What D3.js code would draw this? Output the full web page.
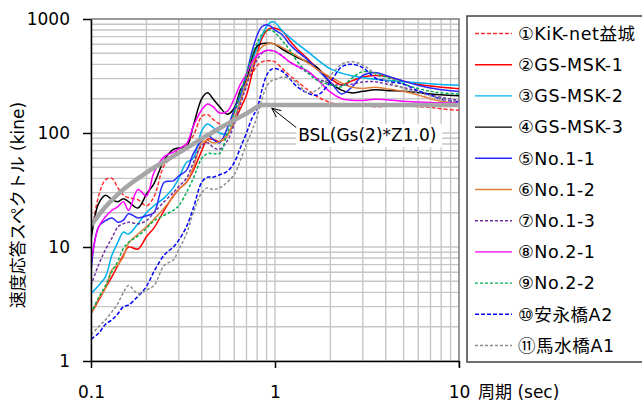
<!DOCTYPE html>
<html>
<head>
<meta charset="utf-8">
<script src="https://cdn.jsdelivr.net/npm/d3@7"></script>
<style>
  body { margin: 0; background: #fff; }
  svg { display: block; font-family: "DejaVu Sans", "Noto Sans CJK JP", sans-serif; }
</style>
</head>
<body>
<svg id="chart" width="642" height="407"></svg>
<script>
// periods (sec) shared by every record
const periods = [0.1, 0.11, 0.12, 0.13, 0.14, 0.15, 0.16, 0.18, 0.2, 0.22, 0.25, 0.28, 0.3, 0.33, 0.36,
  0.4, 0.43, 0.46, 0.5, 0.55, 0.6, 0.65, 0.7, 0.75, 0.8, 0.85, 0.9, 0.95, 1.0, 1.1, 1.2, 1.3, 1.5, 1.7,
  2.0, 2.3, 2.6, 3.0, 3.5, 4, 5, 6, 7, 8, 10]

// velocity response (kine)
const kikNet = [12, 28, 39, 40, 33, 28.6, 27, 26, 23, 27.6, 52, 62, 72, 80, 95, 140, 145, 132, 120, 116, 150, 210,
  280, 330, 390, 420, 430, 430, 420, 365, 320, 290, 240, 208, 185, 173, 178, 180, 170, 172, 175, 170, 168, 163, 158]
const gsMsk1 = [2.6, 3.4, 4.4, 5.5, 6.9, 8.5, 10, 9.6, 12.3, 14.7, 21, 28, 32, 37, 47, 70, 88, 88, 84, 95, 125, 165,
  215, 330, 500, 680, 790, 830, 830, 780, 650, 560, 450, 370, 300, 265, 285, 310, 320, 315, 285, 268, 258, 252, 245]
const gsMsk2 = [3.9, 4.6, 5.5, 8.5, 11, 13.5, 13, 16, 20, 23, 27, 33, 40, 55, 60, 105, 120, 112, 100, 98, 130, 200,
  280, 420, 560, 720, 860, 940, 930, 780, 690, 620, 520, 440, 365, 335, 318, 305, 296, 290, 282, 276, 270, 266, 262]
const gsMsk3 = [11.5, 24, 28.5, 26, 25, 26.5, 25, 22, 29, 36, 58, 72, 74, 76, 116, 200, 225, 200, 170, 146, 165, 240,
  290, 460, 580, 610, 612, 612, 600, 540, 500, 465, 420, 375, 275, 238, 225, 232, 240, 236, 232, 226, 220, 216, 212]
const no11 = [6.1, 15, 17, 18, 16.5, 17.2, 19.6, 18, 18.8, 20, 37, 38, 42, 47, 66, 86, 96, 88, 82, 110, 160, 220,
  330, 520, 720, 860, 890, 860, 800, 720, 600, 530, 440, 360, 280, 220, 250, 320, 340, 320, 285, 262, 248, 240, 231]
const no12 = [2.6, 3.5, 4.4, 6.3, 7, 8.2, 10.8, 13, 15, 17.5, 22, 27.6, 32, 37, 50, 82, 86, 82, 84, 95, 130, 190,
  280, 380, 500, 570, 600, 612, 600, 560, 516, 480, 415, 360, 310, 275, 253, 246, 252, 245, 232, 215, 200, 190, 183]
const no13 = [4.6, 7, 9.5, 12, 15, 16, 16.5, 16, 17, 20, 25, 30, 34, 40, 55, 78, 82, 75, 72, 85, 120, 180,
  260, 360, 440, 500, 530, 530, 520, 470, 420, 390, 340, 300, 272, 262, 268, 280, 282, 270, 250, 232, 215, 205, 193]
const no21 = [7.2, 15, 18.4, 21, 22.6, 25, 21, 32, 28, 45, 62, 68, 73, 80, 115, 160, 180, 170, 150, 155, 200, 270,
  330, 420, 480, 510, 530, 530, 520, 470, 420, 390, 350, 295, 228, 200, 194, 193, 198, 196, 190, 187, 185, 184, 183]
const no22 = [2.6, 3.6, 4.6, 6.1, 7.5, 9.7, 11, 12.5, 14.5, 17, 19, 21, 23, 30, 40, 60, 66, 66, 66, 100, 150, 230,
  330, 480, 620, 730, 790, 800, 760, 640, 540, 440, 340, 290, 265, 255, 300, 345, 335, 310, 270, 245, 232, 225, 220]
const yasunaga = [1.55, 1.75, 2.1, 2.3, 2.6, 3, 3.1, 3.7, 4.5, 6.1, 8.5, 10, 11.5, 15, 22, 37, 41, 41, 43, 46, 55, 75,
  100, 135, 165, 240, 320, 360, 368, 345, 300, 260, 225, 215, 280, 380, 400, 375, 305, 285, 268, 235, 215, 198, 188]
const mamizu = [1.7, 2.0, 2.3, 2.7, 3.2, 4.0, 4.6, 3.9, 4.2, 4.6, 6.9, 7.7, 9.5, 13, 20, 30, 33, 32, 33, 37, 43, 58,
  80, 105, 140, 200, 255, 285, 295, 310, 302, 280, 225, 240, 320, 400, 423, 395, 330, 290, 246, 225, 212, 200, 188]

// design spectrum BSL
const bslPeriods = [0.1, 0.12, 0.15, 0.2, 0.3, 0.5, 0.7, 0.86, 10]
const bslValues = [15.5, 22.5, 32, 45, 67, 110, 148, 176, 176]

const xTicks = [0.1, 1, 10]
const yTicks = [1, 10, 100, 1000]

const seriesList = [
  { name: '①KiK-net益城', values: kikNet, color: '#ff3030', dash: '4,2' },
  { name: '②GS-MSK-1', values: gsMsk1, color: '#ff0000', dash: null },
  { name: '③GS-MSK-2', values: gsMsk2, color: '#00b0f0', dash: null },
  { name: '④GS-MSK-3', values: gsMsk3, color: '#000000', dash: null },
  { name: '⑤No.1-1', values: no11, color: '#2a2aff', dash: null },
  { name: '⑥No.1-2', values: no12, color: '#e0803c', dash: null },
  { name: '⑦No.1-3', values: no13, color: '#7030a0', dash: '3,2' },
  { name: '⑧No.2-1', values: no21, color: '#ff00ff', dash: null },
  { name: '⑨No.2-2', values: no22, color: '#00b050', dash: '3,2' },
  { name: '⑩安永橋A2', values: yasunaga, color: '#0000ff', dash: '4,2' },
  { name: '⑪馬水橋A1', values: mamizu, color: '#8c8c8c', dash: '3,2' }
]

const plotLeft = 91, plotRight = 459, plotTop = 19, plotBottom = 361

const svg = d3.select('#chart')

const x = d3.scaleLog().domain([0.1, 10]).range([plotLeft, plotRight])
const y = d3.scaleLog().domain([1, 1000]).range([plotBottom, plotTop])

/* grid */
const xGrid = []
;[0.1, 1].forEach(d => { for (let k = 1; k <= 9; k++) xGrid.push(d * k) })
const yGrid = []
;[1, 10, 100].forEach(d => { for (let k = 1; k <= 9; k++) yGrid.push(d * k) })

const grid = svg.append('g').attr('stroke', '#c6c6c6').attr('stroke-width', 1.4)
grid.selectAll('line.v').data(xGrid).join('line').attr('class', 'v')
  .attr('x1', d => x(d)).attr('x2', d => x(d)).attr('y1', plotTop).attr('y2', plotBottom)
grid.selectAll('line.h').data(yGrid).join('line').attr('class', 'h')
  .attr('x1', plotLeft).attr('x2', plotRight).attr('y1', d => y(d)).attr('y2', d => y(d))

/* plot border (top, right) */
svg.append('path')
  .attr('d', `M${plotLeft},${plotTop}H${plotRight}V${plotBottom + 6}`)
  .attr('fill', 'none').attr('stroke', '#7a7a7a').attr('stroke-width', 1.5)

/* clip */
svg.append('defs').append('clipPath').attr('id', 'plot')
  .append('rect').attr('x', plotLeft).attr('y', plotTop)
  .attr('width', plotRight - plotLeft).attr('height', plotBottom - plotTop)

const line = d3.line()
  .x(d => x(d[0]))
  .y(d => y(d[1]))
  .curve(d3.curveCatmullRom.alpha(0.5))

const plot = svg.append('g').attr('clip-path', 'url(#plot)')

plot.selectAll('path.series')
  .data(seriesList)
  .join('path')
  .attr('class', 'series')
  .attr('fill', 'none')
  .attr('stroke', d => d.color)
  .attr('stroke-width', 1.5)
  .attr('stroke-dasharray', d => d.dash)
  .attr('d', d => line(periods.map((p, i) => [p, d.values[i]])))

/* BSL */
plot.append('path')
  .attr('fill', 'none')
  .attr('stroke', '#a6a6a6')
  .attr('stroke-width', 4.5)
  .attr('stroke-linejoin', 'round')
  .attr('d', d3.line().x(d => x(d[0])).y(d => y(d[1])).curve(d3.curveMonotoneX)(bslPeriods.map((p, i) => [p, bslValues[i]])))

/* annotation */
const tip = [x(0.96), y(165)]
const from = [x(1.32), y(110)]
const ang = Math.atan2(from[1] - tip[1], from[0] - tip[0])
const ah = 10, spread = 0.42
svg.append('path')
  .attr('fill', 'none').attr('stroke', '#000').attr('stroke-width', 1)
  .attr('d', `M${from[0]},${from[1]}L${tip[0]},${tip[1]}` +
    `M${tip[0] + ah * Math.cos(ang - spread)},${tip[1] + ah * Math.sin(ang - spread)}L${tip[0]},${tip[1]}` +
    `L${tip[0] + ah * Math.cos(ang + spread)},${tip[1] + ah * Math.sin(ang + spread)}`)
svg.append('rect')
  .attr('x', from[0] - 1).attr('y', from[1] - 4).attr('width', 146).attr('height', 23)
  .attr('fill', '#fff')
svg.append('text')
  .attr('x', from[0] + 1).attr('y', from[1] + 13)
  .attr('font-size', 17).attr('fill', '#000')
  .text('BSL(Gs(2)*Z1.0)')

/* axes */
const yAxis = svg.append('g')
  .attr('transform', `translate(${plotLeft},0)`)
  .call(d3.axisLeft(y).tickValues(yTicks).tickFormat(d3.format('d')).tickSize(8).tickSizeOuter(0).tickPadding(13))
const xAxis = svg.append('g')
  .attr('transform', `translate(0,${plotBottom})`)
  .call(d3.axisBottom(x).tickValues(xTicks).tickFormat(d => d < 1 ? '0.1' : String(d)).tickSize(7).tickSizeOuter(0).tickPadding(18))

;[yAxis, xAxis].forEach(a => {
  a.selectAll('path, line').attr('stroke', '#000').attr('stroke-width', 1.5)
  a.selectAll('text').attr('font-size', 17).attr('fill', '#000')
    .attr('font-family', '"DejaVu Sans", sans-serif')
})

svg.append('text')
  .attr('x', 478).attr('y', plotBottom + 37)
  .attr('font-size', 17).attr('fill', '#000')
  .text('周期 (sec)')

svg.append('text')
  .attr('transform', 'translate(18,205) rotate(-90)')
  .attr('text-anchor', 'middle')
  .attr('dominant-baseline', 'central')
  .attr('font-size', 17).attr('fill', '#000')
  .text('速度応答スペクトル (kine)')

/* legend */
const legend = svg.append('g')
legend.append('rect')
  .attr('x', 467).attr('y', 16).attr('width', 200).attr('height', 346)
  .attr('fill', '#fff').attr('stroke', '#404040').attr('stroke-width', 1.5)

const rows = legend.selectAll('g.row')
  .data(seriesList)
  .join('g')
  .attr('class', 'row')
  .attr('transform', (d, i) => `translate(0,${33.5 + i * 31.2})`)

rows.append('line')
  .attr('x1', 475).attr('x2', 512)
  .attr('stroke', d => d.color)
  .attr('stroke-width', 1.4)
  .attr('stroke-dasharray', d => d.dash)

rows.append('text')
  .attr('x', 518)
  .attr('dy', '0.36em')
  .attr('font-size', 17.5)
  .attr('letter-spacing', 0.6)
  .attr('fill', '#000')
  .text(d => d.name)
</script>
</body>
</html>
